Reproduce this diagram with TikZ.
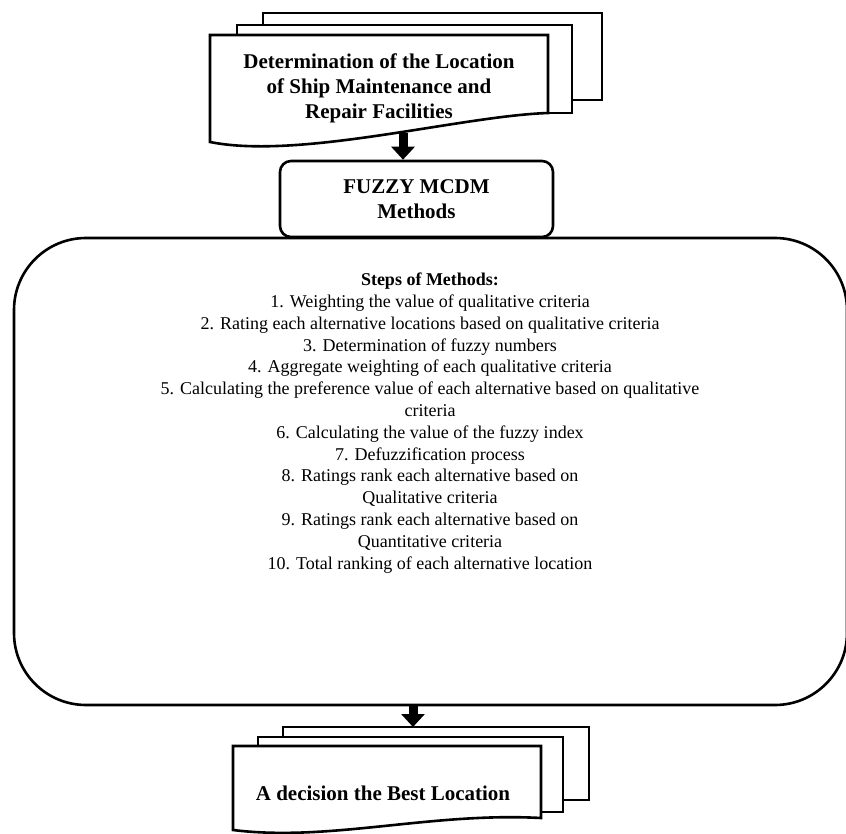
\documentclass[tikz,border=0pt]{standalone}
\usepackage{fontspec}
\setmainfont{Liberation Serif}
\usetikzlibrary{arrows.meta}
\begin{document}
\begin{tikzpicture}
    [x=1pt,y=-1pt,line width=2.6pt,
     sheet/.style={draw,fill=white,line join=miter},
     flowarrow/.style={line width=9pt,-{Triangle[length=13pt,width=23pt]}},
     boldtext/.style={font=\bfseries\fontsize{21}{25}\selectfont,align=center},
     steptext/.style={font=\fontsize{18}{21.8}\selectfont,align=center}]
    \useasboundingbox (0,0) rectangle (846,834);
    \draw[sheet] (263,13) rectangle (602,100);
    \draw[sheet] (237,25) rectangle (572,113);
    \draw[sheet] (210,35) -- (548,35) -- (548,113) .. controls (460,116) and (300,160) .. (210,142) -- cycle;
    \node[boldtext] (location) at (379,88) {Determination of the Location\\of Ship Maintenance and\\Repair Facilities};
    \coordinate (locationbot) at (403,133);
    \node[draw,rounded corners=11pt,minimum width=273pt,minimum height=76pt,boldtext] (fuzzy) at (416.5,199) {FUZZY MCDM\\Methods};
    \draw[flowarrow] (locationbot) -- (locationbot |- fuzzy.north);
    \node[draw,rounded corners=72pt,minimum width=833pt,minimum height=467pt] (steps) at (430.5,471.5) {};
    \node[steptext] (steplist) at (430,423) {\textbf{Steps of Methods:}\\
        1. Weighting the value of qualitative criteria\\
        2. Rating each alternative locations based on qualitative criteria\\
        3. Determination of fuzzy numbers\\
        4. Aggregate weighting of each qualitative criteria\\
        5. Calculating the preference value of each alternative based on qualitative\\
        criteria\\
        6. Calculating the value of the fuzzy index\\
        7. Defuzzification process\\
        8. Ratings rank each alternative based on\\
        Qualitative criteria\\
        9. Ratings rank each alternative based on\\
        Quantitative criteria\\
        10. Total ranking of each alternative location};
    \coordinate (decisiontop) at (413,727);
    \draw[sheet] (283,727) rectangle (589,800);
    \draw[sheet] (258,737) rectangle (563,812);
    \draw[sheet] (233,746) -- (541,746) -- (541,818) .. controls (430,812) and (330,842) .. (233,830) -- cycle;
    \node[boldtext] (decision) at (383,793) {A decision the Best Location};
    \draw[flowarrow] (steps.south -| decisiontop) -- (decisiontop);
\end{tikzpicture}
\end{document}
